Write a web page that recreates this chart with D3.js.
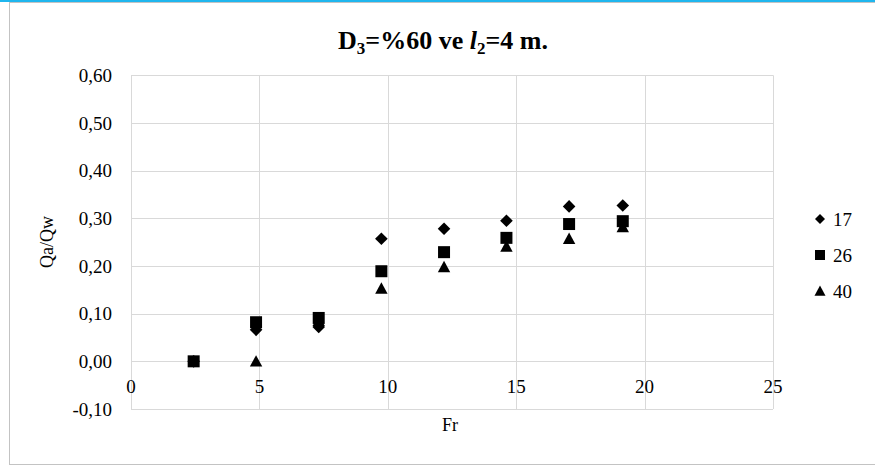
<!DOCTYPE html>
<html>
<head>
<meta charset="utf-8">
<script src="https://cdn.jsdelivr.net/npm/d3@7/dist/d3.min.js"></script>
<style>
  body { margin: 0; background: #fff; }
  text { font-family: "Liberation Serif", "Times New Roman", serif; fill: #000; }
</style>
</head>
<body>
<div id="chart"></div>
<script>
// Fr values (x) shared by every series
const fr = [2.44, 4.87, 7.31, 9.75, 12.19, 14.62, 17.06, 19.15];
// Qa/Qw for each series
const s17 = [0.0, 0.066, 0.072, 0.257, 0.278, 0.295, 0.325, 0.327];
const s26 = [0.0, 0.082, 0.091, 0.189, 0.229, 0.259, 0.288, 0.294];
const s40 = [null, 0.0, 0.085, 0.153, 0.198, 0.241, 0.257, 0.282];
const seriesNames = ["17", "26", "40"];
const xTicks = [0, 5, 10, 15, 20, 25];
const yTicks = [-0.1, 0, 0.1, 0.2, 0.3, 0.4, 0.5, 0.6];

const width = 875, height = 468;

const svg = d3.select("#chart")
  .append("svg")
  .attr("width", width)
  .attr("height", height);

// outer frame like the excel chart area
svg.append("rect")
  .attr("x", 9.5).attr("y", 2.5)
  .attr("width", width + 10).attr("height", 462)
  .attr("fill", "none")
  .attr("stroke", "#c3c3c3");
svg.append("rect")
  .attr("x", 0).attr("y", 0)
  .attr("width", width).attr("height", 2)
  .attr("fill", "#1fb6ee");

// scales
const x = d3.scaleLinear().domain([0, 25]).range([131, 773]);
const y = d3.scaleLinear().domain([-0.1, 0.6]).range([409, 75.3]);

// grid lines
const grid = svg.append("g").attr("stroke", "#d9d9d9").attr("stroke-width", 1);
grid.selectAll("line.h")
  .data(yTicks)
  .enter()
  .append("line")
  .attr("x1", x(0)).attr("x2", x(25))
  .attr("y1", d => Math.round(y(d)) + 0.5)
  .attr("y2", d => Math.round(y(d)) + 0.5);
grid.selectAll("line.v")
  .data(xTicks)
  .enter()
  .append("line")
  .attr("y1", y(0.6)).attr("y2", y(-0.1))
  .attr("x1", d => Math.round(x(d)) + 0.5)
  .attr("x2", d => Math.round(x(d)) + 0.5);

// y tick labels
const fmt = d => d3.format(".2f")(d).replace(".", ",").replace("−", "-");
svg.append("g")
  .selectAll("text")
  .data(yTicks)
  .enter()
  .append("text")
  .attr("x", 112)
  .attr("y", d => y(d))
  .attr("dy", "0.35em")
  .attr("text-anchor", "end")
  .style("font-size", "19px")
  .text(fmt);

// x tick labels sit under the zero line
svg.append("g")
  .selectAll("text")
  .data(xTicks)
  .enter()
  .append("text")
  .attr("x", d => x(d))
  .attr("y", y(0) + 25)
  .attr("dy", "0.35em")
  .attr("text-anchor", "middle")
  .style("font-size", "19px")
  .text(d => d);

// axis titles
svg.append("text")
  .attr("x", 450).attr("y", 425)
  .attr("dy", "0.35em")
  .attr("text-anchor", "middle")
  .style("font-size", "18px")
  .text("Fr");
svg.append("text")
  .attr("transform", "translate(47, 242) rotate(-90)")
  .attr("dy", "0.35em")
  .attr("text-anchor", "middle")
  .style("font-size", "18px")
  .text("Qa/Qw");

// chart title
const title = svg.append("text")
  .attr("x", 443).attr("y", 49)
  .attr("text-anchor", "middle")
  .style("font-size", "26px")
  .style("font-weight", "bold");
title.append("tspan").text("D");
title.append("tspan").attr("dy", 5).style("font-size", "17px").text("3");
title.append("tspan").attr("dy", -5).text("=%60 ve ");
title.append("tspan").style("font-style", "italic").text("l");
title.append("tspan").attr("dy", 5).style("font-size", "17px").text("2");
title.append("tspan").attr("dy", -5).text("=4 m.");

// custom marker shapes (r = half width)
const diamond = r => `M0,${-r}L${r},0L0,${r}L${-r},0Z`;
const square = r => `M${-r},${-r}H${r}V${r}H${-r}Z`;
const triangle = r => `M0,${-r}L${r},${r * 0.85}L${-r},${r * 0.85}Z`;

const series = [
  { name: seriesNames[2], values: s40, shape: triangle, r: 6.2 },
  { name: seriesNames[1], values: s26, shape: square, r: 6 },
  { name: seriesNames[0], values: s17, shape: diamond, r: 6.3 }
];

series.forEach(s => {
  const pts = fr.map((f, i) => ({ x: f, y: s.values[i] })).filter(d => d.y !== null);
  svg.append("g")
    .selectAll("path")
    .data(pts)
    .enter()
    .append("path")
    .attr("transform", d => `translate(${x(d.x)}, ${y(d.y)})`)
    .attr("d", s.shape(s.r))
    .attr("fill", "#000");
});

// legend
const legend = [
  { name: seriesNames[0], shape: diamond, r: 5 },
  { name: seriesNames[1], shape: square, r: 5 },
  { name: seriesNames[2], shape: triangle, r: 5.5 }
];
const lg = svg.append("g")
  .selectAll("g")
  .data(legend)
  .enter()
  .append("g")
  .attr("transform", (d, i) => `translate(820, ${219 + i * 36})`);
lg.append("path")
  .attr("d", d => d.shape(d.r))
  .attr("fill", "#000");
lg.append("text")
  .attr("x", 13)
  .attr("dy", "0.35em")
  .style("font-size", "19px")
  .text(d => d.name);
</script>
</body>
</html>
